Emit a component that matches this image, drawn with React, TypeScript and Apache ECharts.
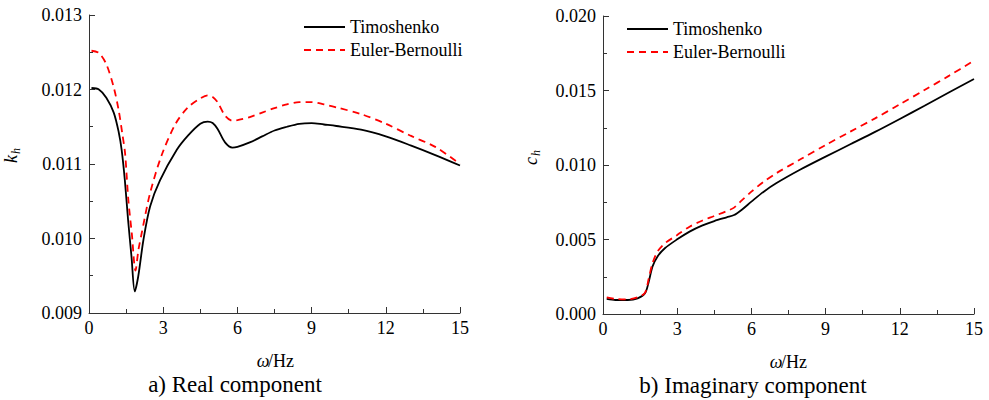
import React, { useEffect, useRef } from "react";
import * as echarts from "echarts";

const FONT = "Liberation Serif";

// a) Real component k_h
const kTimoX = [0.1, 0.4, 0.7, 1.0, 1.2, 1.32, 1.45, 1.58, 1.72, 1.85, 1.99, 2.2, 2.47, 2.87, 3.55, 4, 4.5, 4.8, 5.0, 5.2, 5.5, 5.8, 6.0, 6.5, 7, 7.5, 8, 8.5, 9, 9.5, 10, 11, 12, 13, 14, 15];
const kTimoY = [0.01202, 0.012, 0.01189, 0.01169, 0.01143, 0.01119, 0.01078, 0.01025, 0.00975, 0.00929, 0.00949, 0.00998, 0.01043, 0.01078, 0.01119, 0.01138, 0.01154, 0.01157, 0.01155, 0.01147, 0.01129, 0.01122, 0.01123, 0.01129, 0.01137, 0.01145, 0.0115, 0.01154, 0.01155, 0.01153, 0.01151, 0.01146, 0.01137, 0.01125, 0.01112, 0.01098];
const kEulerX = [0.1, 0.4, 0.7, 1.0, 1.2, 1.35, 1.46, 1.59, 1.73, 1.88, 2.0, 2.13, 2.47, 2.94, 3.5, 4, 4.5, 4.8, 5.0, 5.2, 5.5, 5.8, 6.0, 6.5, 7, 7.5, 8, 8.5, 9, 9.5, 10, 11, 12, 13, 14, 15];
const kEulerY = [0.01252, 0.01249, 0.01234, 0.01203, 0.01172, 0.0114, 0.01114, 0.01052, 0.01007, 0.00957, 0.00985, 0.01007, 0.01061, 0.01112, 0.01154, 0.01176, 0.01188, 0.01192, 0.0119, 0.01183, 0.01165, 0.01158, 0.01159, 0.01163, 0.01169, 0.01175, 0.0118, 0.01183, 0.01183, 0.0118, 0.01176, 0.01167, 0.01154, 0.01138, 0.01123, 0.011];

// b) Imaginary component c_h
const cX = [0.15, 0.5, 1.0, 1.4, 1.7, 1.85, 2.0, 2.2, 2.5, 3, 3.5, 4, 4.5, 5, 5.3, 5.6, 6, 6.5, 7, 8, 9, 10, 11, 12, 13, 14, 15];
const cTimoY = [0.00101, 0.00094, 0.00094, 0.00105, 0.00139, 0.00217, 0.00318, 0.00385, 0.00441, 0.00501, 0.00553, 0.00593, 0.00624, 0.00649, 0.00664, 0.00698, 0.00754, 0.00821, 0.00877, 0.00971, 0.01056, 0.01139, 0.01222, 0.01309, 0.01398, 0.01488, 0.01577];
const cEulerY = [0.00112, 0.00101, 0.00098, 0.00112, 0.00143, 0.00239, 0.0034, 0.00418, 0.00474, 0.0053, 0.00586, 0.00626, 0.00658, 0.00691, 0.00714, 0.00761, 0.00821, 0.00888, 0.00944, 0.0104, 0.01134, 0.01224, 0.01313, 0.01407, 0.01503, 0.016, 0.017];

const seriesNames = ["Timoshenko", "Euler-Bernoulli"];
const xTicks = { min: 0, max: 15, interval: 3 };
const yLeft = { min: 0.009, max: 0.013, interval: 0.001 };
const yRight = { min: 0, max: 0.02, interval: 0.005 };
const captions = ["a) Real component", "b) Imaginary component"];

const zip = (xs: number[], ys: number[]) => xs.map((x, i) => [x, ys[i]]);

const AXIS_COLOR = "#333";

function xAxisCfg(gridIndex: number) {
  return {
    type: "value",
    gridIndex,
    min: xTicks.min,
    max: xTicks.max,
    interval: xTicks.interval,
    axisLine: { show: true, lineStyle: { color: AXIS_COLOR, width: 1 } },
    axisTick: { show: true, inside: true, length: 6, lineStyle: { color: AXIS_COLOR } },
    minorTick: { show: true, splitNumber: 2, length: 4, lineStyle: { color: AXIS_COLOR } },
    splitLine: { show: false },
    axisLabel: { fontSize: 18, fontFamily: FONT, color: "#000", margin: 6 },
  };
}

function yAxisCfg(gridIndex: number, r: { min: number; max: number; interval: number }) {
  return {
    type: "value",
    gridIndex,
    min: r.min,
    max: r.max,
    interval: r.interval,
    axisLine: { show: true, lineStyle: { color: AXIS_COLOR, width: 1 } },
    axisTick: { show: true, inside: true, length: 6, lineStyle: { color: AXIS_COLOR } },
    minorTick: { show: true, splitNumber: 2, length: 4, lineStyle: { color: AXIS_COLOR } },
    splitLine: { show: false },
    axisLabel: {
      fontSize: 18,
      fontFamily: FONT,
      color: "#000",
      margin: 7,
      formatter: (v: number) => v.toFixed(3),
    },
  };
}

function lineSeries(name: string, idx: number, data: number[][], dashed: boolean) {
  return {
    type: "line",
    name,
    xAxisIndex: idx,
    yAxisIndex: idx,
    data,
    symbol: "none",
    showSymbol: false,
    smooth: 0.3,
    lineStyle: dashed
      ? { color: "#ff0000", width: 1.8, type: [7, 5] }
      : { color: "#000000", width: 1.8 },
    itemStyle: { color: dashed ? "#ff0000" : "#000000" },
    z: dashed ? 3 : 2,
  };
}

function legendCfg(left: number, top: number) {
  return {
    data: seriesNames,
    orient: "vertical",
    left,
    top,
    itemWidth: 41,
    itemHeight: 14,
    itemGap: 5,
    selectedMode: false,
    itemStyle: { opacity: 0 },
    textStyle: { fontSize: 18, fontFamily: FONT, color: "#000", lineHeight: 18 },
  };
}

function txt(x: number, y: number, text: string, size: number, extra: any = {}) {
  return {
    type: "text",
    x,
    y,
    style: {
      text,
      fontSize: size,
      fontFamily: FONT,
      fill: "#000",
      align: "center",
      verticalAlign: "middle",
      ...extra,
    },
  };
}

function subLabel(x: number, y: number, main: string, sub: string) {
  return {
    type: "group",
    x,
    y,
    rotation: Math.PI / 2,
    children: [
      txt(0, 0, main, 18, { fontStyle: "italic" }),
      txt(8, 5, sub, 12, { fontStyle: "italic" }),
    ],
  };
}

function omegaLabel(x: number, y: number) {
  return {
    type: "group",
    x,
    y,
    children: [
      txt(-12, 0, "ω", 18, { fontStyle: "italic" }),
      txt(6, 0, "/Hz", 18),
    ],
  };
}

const CSS = `svg text, svg tspan { font-family: "Liberation Serif", "Times New Roman", serif !important; }`;

export default function App() {
  const ref = useRef<HTMLDivElement>(null);
  useEffect(() => {
    document.body.style.margin = "0";
    if (!ref.current) return;
    const chart = echarts.init(ref.current, undefined, { renderer: "svg" });
    const option: any = {
      animation: false,
      grid: [
        { left: 89, top: 15, width: 371, height: 298 },
        { left: 603, top: 16, width: 371, height: 298 },
      ],
      xAxis: [xAxisCfg(0), xAxisCfg(1)],
      yAxis: [yAxisCfg(0, yLeft), yAxisCfg(1, yRight)],
      legend: [legendCfg(298, 13), legendCfg(621, 15)],
      series: [
        lineSeries(seriesNames[0], 0, zip(kTimoX, kTimoY), false),
        lineSeries(seriesNames[1], 0, zip(kEulerX, kEulerY), true),
        lineSeries(seriesNames[0], 1, zip(cX, cTimoY), false),
        lineSeries(seriesNames[1], 1, zip(cX, cEulerY), true),
      ],
      graphic: [
        subLabel(11, 159, "k", "h"),
        subLabel(531, 161, "c", "h"),
        omegaLabel(275, 361),
        omegaLabel(788, 362),
        txt(235, 384, captions[0], 23),
        txt(753, 385, captions[1], 23),
      ],
    };
    chart.setOption(option);
    return () => chart.dispose();
  }, []);
  return (
    <div style={{ position: "relative", width: 989, height: 400 }}>
      <style>{CSS}</style>
      <div ref={ref} style={{ width: 989, height: 400 }} />
      <div
        style={{
          position: "absolute",
          left: 984,
          top: 394,
          fontFamily: "Liberation Serif",
          fontSize: 2,
          lineHeight: 1,
          color: "#ffffff",
        }}
      >
        .
      </div>
    </div>
  );
}
